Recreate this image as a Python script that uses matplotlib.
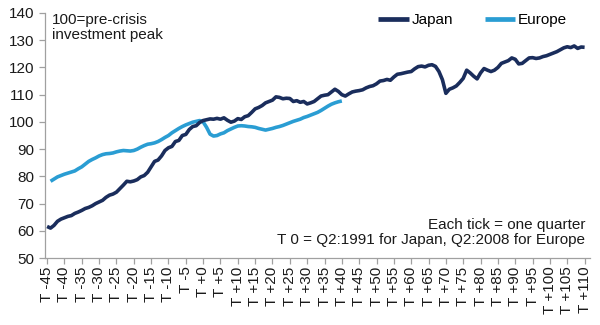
"""Japan vs Europe investment, indexed to pre-crisis peak (100)."""

import matplotlib
matplotlib.use("Agg")
import matplotlib.pyplot as plt
import numpy as np

JAPAN_Q = list(range(-45, 111))
JAPAN_VAL = [
    61.6, 61.0, 62.0, 63.5, 64.3, 64.8, 65.3, 65.6, 66.4, 66.9,
    67.5, 68.2, 68.6, 69.2, 70.0, 70.6, 71.2, 72.3, 73.1, 73.5,
    74.2, 75.5, 76.8, 78.2, 78.0, 78.3, 78.8, 79.8, 80.3, 81.5,
    83.5, 85.5, 86.0, 87.5, 89.5, 90.5, 91.0, 92.8, 93.2, 95.0,
    95.4, 97.2, 98.3, 98.6, 99.8, 100.5, 100.8, 101.1, 101.0, 101.3,
    101.0, 101.5, 100.6, 99.9, 100.3, 101.2, 100.9, 101.9, 102.3, 103.5,
    104.8, 105.3, 106.0, 107.0, 107.5, 108.0, 109.2, 109.0, 108.5, 108.7,
    108.6, 107.5, 107.8, 107.2, 107.5, 106.6, 107.0, 107.5, 108.5, 109.5,
    109.8, 110.0, 111.0, 112.0, 111.2, 110.0, 109.5, 110.3, 111.0, 111.3,
    111.5, 111.8, 112.5, 113.0, 113.3, 114.0, 115.0, 115.2, 115.6, 115.3,
    116.5, 117.5, 117.7, 118.0, 118.3, 118.5, 119.5, 120.3, 120.5, 120.2,
    120.8, 121.0, 120.4, 118.5, 115.5, 110.5, 112.0, 112.5, 113.2, 114.5,
    116.0, 119.0, 118.0, 116.8, 115.8, 118.0, 119.6, 119.0, 118.5, 119.0,
    120.0, 121.5, 122.0, 122.5, 123.5, 123.0, 121.3, 121.5, 122.5, 123.5,
    123.6, 123.3, 123.5, 124.0, 124.3, 124.8, 125.3, 125.8, 126.5, 127.2,
    127.6, 127.3, 127.9, 127.0, 127.5, 127.4,
]

EUROPE_Q = list(range(-44, 41))
EUROPE_VAL = [
    78.2, 79.0, 79.8, 80.3, 80.8, 81.2, 81.6, 82.0, 82.8, 83.5,
    84.5, 85.5, 86.2, 86.8, 87.5, 88.0, 88.3, 88.4, 88.6, 89.0,
    89.3, 89.5, 89.4, 89.3, 89.5, 90.0, 90.7, 91.3, 91.8, 92.0,
    92.3, 92.8, 93.5, 94.3, 95.0, 96.0, 96.8, 97.6, 98.3, 98.9,
    99.4, 99.9, 100.2, 100.5, 100.0, 98.0, 95.5, 94.8, 95.0, 95.6,
    96.0, 96.8, 97.4, 98.0, 98.5, 98.6, 98.5, 98.3, 98.2, 98.0,
    97.6, 97.3, 97.0, 97.3, 97.6, 98.0, 98.3, 98.7, 99.2, 99.7,
    100.2, 100.6, 101.0, 101.6, 102.0, 102.5, 103.0, 103.5, 104.2, 105.0,
    105.8, 106.5, 107.0, 107.4, 107.7,
]

TICK_Q = list(range(-45, 111, 5))
TICK_LABELS = [f"T {q:+d}" if q >= 0 else f"T {q}" for q in TICK_Q]
Y_TICKS = list(range(50, 141, 10))

JAPAN_COLOR = "#1A2D5C"
EUROPE_COLOR = "#2A9DD3"
AXIS_COLOR = "#A0A0A0"
TEXT_COLOR = "#1A1A1A"


def main() -> None:
    plt.rcParams.update({"font.family": ["Liberation Sans", "DejaVu Sans"], "font.size": 11})
    fig = plt.figure(figsize=(6.0, 3.25), dpi=100)
    ax = fig.add_axes([0.075, 0.206, 0.908, 0.754])

    ax.plot(JAPAN_Q, JAPAN_VAL, color=JAPAN_COLOR, lw=2.6, solid_capstyle="butt", label="Japan", zorder=3)
    ax.plot(EUROPE_Q, EUROPE_VAL, color=EUROPE_COLOR, lw=2.6, solid_capstyle="butt", label="Europe", zorder=2)

    ax.set_xlim(-45.6, 111.5)
    ax.set_ylim(50, 140)
    ax.set_yticks(Y_TICKS)
    ax.set_xticks(TICK_Q, TICK_LABELS, rotation=90)
    for lab in ax.get_xticklabels():
        lab.set_ha("center")
        lab.set_va("top")

    for side in ("top", "right"):
        ax.spines[side].set_visible(False)
    for side in ("left", "bottom"):
        ax.spines[side].set_color(AXIS_COLOR)
        ax.spines[side].set_linewidth(0.9)
    ax.tick_params(axis="both", colors=AXIS_COLOR, labelcolor=TEXT_COLOR, length=4, width=0.9, labelsize=11)
    ax.tick_params(axis="x", pad=2)
    ax.tick_params(axis="y", pad=4)

    ax.text(0.012, 0.998, "100=pre-crisis\ninvestment peak", transform=ax.transAxes, ha="left", va="top",
            fontsize=11, color=TEXT_COLOR, linespacing=1.05)
    ax.text(0.992, 0.045, "Each tick = one quarter\nT 0 = Q2:1991 for Japan, Q2:2008 for Europe",
            transform=ax.transAxes, ha="right", va="bottom", fontsize=11, color=TEXT_COLOR,
            multialignment="right", linespacing=1.05)

    leg = ax.legend(loc="upper right", bbox_to_anchor=(0.983, 1.055), ncol=2, frameon=False, fontsize=11,
                    handlelength=2.0, handletextpad=0.15, columnspacing=2.1)
    for line in leg.get_lines():
        line.set_linewidth(3.4)

    fig.savefig("out.png", dpi=100)
    plt.close(fig)


if __name__ == "__main__":
    main()
